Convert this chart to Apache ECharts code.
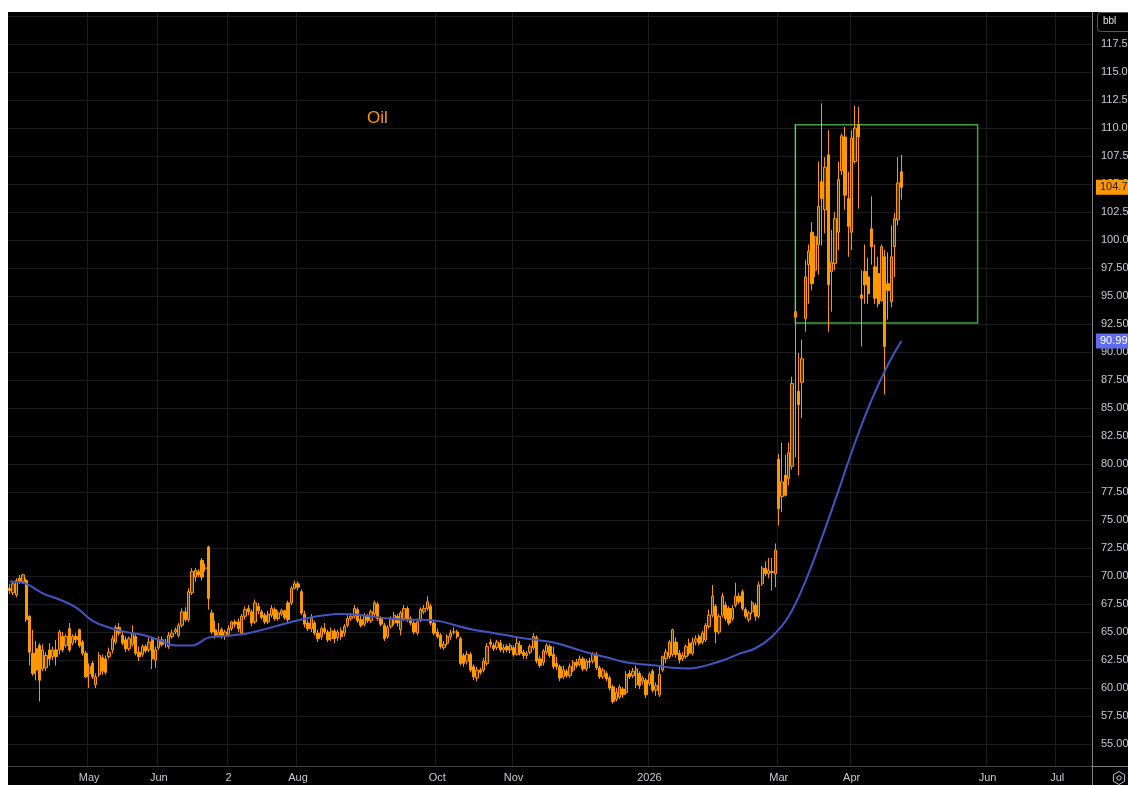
<!DOCTYPE html>
<html><head><meta charset="utf-8">
<script src="https://cdn.jsdelivr.net/npm/echarts@6/dist/echarts.min.js"></script>
<style>
html,body{margin:0;padding:0;background:#fff;width:1128px;height:785px;overflow:hidden}
#chart{position:absolute;left:8px;top:12px;width:1120px;height:773px;background:#000}
</style></head><body><div id="chart"></div>
<script>
// ---- categories (trading days) ----
const startDate = '2025-03-27';
const marketHolidays = ['2025-04-18','2025-05-26','2025-06-19','2025-07-04','2025-09-01','2025-11-27','2025-12-25','2026-01-01','2026-01-19','2026-02-16','2026-04-03','2026-05-25','2026-06-19','2026-07-03'];
const categoryCount = 327;
const monthTickLabels = {'2025-05-01':'May','2025-06-02':'Jun','2025-07-02':'2','2025-08-01':'Aug','2025-10-01':'Oct','2025-11-03':'Nov','2026-01-02':'2026','2026-03-02':'Mar','2026-04-01':'Apr','2026-06-01':'Jun','2026-07-01':'Jul'};

// ---- OHLC: [open, close, low, high] ----
const ohlcAprJun2025 = [
[68.9,68.7,68.4,69.3],[68.5,69.3,68.3,69.5],[68.3,69.6,68.1,69.8],[69.8,69.5,69.3,70.1],[69.5,70.1,69.3,70.2],
[69.6,66.1,65.9,69.8],[66.4,63.2,62.0,66.5],[63.1,61.3,61.1,65.2],[63.5,61.6,60.7,64.2],[63.8,60.7,58.8,64.0],
[61.7,63.4,61.5,63.9],[61.8,62.9,61.5,63.2],[63.4,62.6,62.0,64.0],[62.8,63.4,62.5,63.7],[63.4,62.8,62.0,64.3],
[63.4,65.0,63.0,65.2],[64.6,63.4,63.2,65.0],[63.8,64.6,63.6,64.8],[65.3,63.4,63.2,65.8],[64.0,64.6,63.8,64.8],
[64.6,64.3,64.0,64.9],[65.2,63.8,63.6,65.3],[64.1,63.1,62.9,64.3],[63.1,61.0,60.9,63.3],[61.3,61.9,60.0,62.2],
[62.2,61.0,60.8,62.4],[60.3,61.0,60.0,61.3],[61.2,62.9,61.0,63.2],[62.7,61.5,61.2,63.0],[62.6,61.4,61.2,62.9],
[62.8,63.2,62.6,63.6],[63.4,64.4,63.1,64.7],[64.1,65.4,63.9,65.6],[65.4,64.9,64.7,65.8],[64.7,64.0,63.8,65.0],
[64.3,63.5,63.2,64.6],[63.5,64.4,63.3,64.6],[63.9,64.9,63.7,65.6],[64.6,63.1,62.9,64.8],[63.2,62.8,62.4,63.7],
[63.0,63.7,62.8,63.9],[63.7,63.3,63.1,63.9],[63.4,64.1,63.2,64.5],[64.3,62.6,61.7,64.5],[62.5,63.4,61.8,63.7],
[63.6,64.3,63.4,64.6],[64.3,63.9,63.7,64.6],[64.0,64.1,63.6,64.4],[63.7,64.7,63.5,65.0],[64.6,64.9,64.4,65.2],
[65.0,65.2,64.8,65.4],[64.7,65.6,64.5,65.8],[65.6,66.8,65.4,67.1],[66.8,66.1,65.9,67.2],[66.1,68.6,65.9,68.9],
[68.5,70.4,68.3,70.7],[69.9,70.5,69.5,70.7],[70.4,70.1,69.9,70.6],[71.4,69.9,69.6,71.6],[70.7,70.7,70.4,71.1],
[72.6,68.0,67.0,72.7]
];
const ohlcJulSep2025 = [
[66.7,65.0,64.8,67.0],[65.2,64.7,64.4,66.0],[64.7,65.0,64.5,65.8],[65.2,64.6,64.4,65.4],[64.6,65.0,64.3,65.2],
[64.8,65.3,64.6,65.6],[65.3,65.9,65.1,66.0],[65.9,65.7,65.4,66.1],[65.9,65.3,65.0,66.2],[64.9,66.4,64.7,66.6],
[66.4,67.0,66.1,67.3],[67.1,66.8,66.5,67.4],[66.8,65.8,65.5,67.0],[65.9,67.6,65.7,67.9],[67.3,66.9,66.6,67.6],
[66.8,66.3,66.1,67.0],[66.5,65.9,65.7,66.7],[65.9,66.6,65.7,66.9],[66.5,67.1,66.3,67.4],[67.0,66.2,66.0,67.2],
[66.2,66.7,66.0,66.9],[66.6,66.9,66.4,67.1],[66.9,66.3,66.1,67.0],[67.6,66.1,65.9,67.8],[67.6,68.9,67.4,69.1],
[68.9,69.3,68.8,69.6],[69.3,69.0,68.7,69.5],[68.6,66.7,66.5,68.8],
[66.6,65.7,65.4,66.9],[65.8,65.3,65.1,66.1],[65.3,66.2,65.0,66.6],[65.8,64.9,64.7,66.0],[64.9,64.4,64.1,65.2],
[64.6,65.3,64.3,65.5],[65.3,65.0,64.8,65.8],[65.0,64.3,64.1,65.2],[64.4,65.1,64.2,65.4],[65.1,64.4,64.0,65.3],
[64.5,65.0,64.2,65.2],[65.1,64.6,64.3,65.4],[64.9,65.5,64.6,65.7],[65.6,66.2,65.4,66.5],[66.2,66.4,66.0,66.7],
[66.4,67.1,66.2,67.4],[67.0,66.0,65.8,67.2],[66.1,65.6,65.4,66.5],[65.7,66.5,65.5,66.7],[66.4,66.0,65.8,66.6],
[66.0,66.8,65.8,67.0],[66.6,67.6,66.4,67.8],[67.5,66.2,66.0,67.7],[66.2,65.7,65.5,66.4],[65.6,64.4,64.2,65.8],
[64.6,65.4,64.4,65.6],[65.5,66.2,65.3,66.4],[65.8,66.5,65.6,66.8],[66.4,65.8,65.5,66.6],[65.2,66.7,64.7,66.9],
[66.2,67.1,66.0,67.4],[67.1,66.1,65.9,67.3],[66.2,65.8,65.6,66.4],[65.8,65.0,64.8,66.0],[64.9,65.9,64.7,66.2],
[66.0,67.0,65.9,67.2],[66.8,67.1,66.6,67.4],[67.1,67.7,66.9,68.2],[67.3,65.8,65.6,67.5],[65.8,64.9,64.7,66.0],
[65.0,64.6,64.4,65.3]
];
const ohlcOctDec2025 = [
[64.7,63.7,63.5,64.9],[63.6,63.9,63.4,64.2],[64.0,64.6,63.8,64.8],[64.6,64.9,64.3,65.2],[65.0,65.0,64.8,65.4],
[65.0,64.6,64.4,65.2],[64.4,62.2,62.0,64.6],[62.9,62.2,61.9,63.1],[62.4,63.0,62.1,63.3],[63.0,61.6,61.4,63.2],
[61.9,61.0,60.7,62.1],[60.9,61.6,60.6,61.9],[61.6,61.4,61.2,61.8],[61.6,62.4,61.4,62.7],[62.2,63.7,62.0,64.0],
[64.1,63.9,63.6,64.4],[63.8,63.5,63.3,64.0],[63.6,64.1,63.4,64.3],[64.0,63.4,63.2,64.3],[63.4,63.6,63.1,63.9],
[63.7,63.4,63.2,63.9],[63.4,63.8,63.1,64.0],[63.6,63.0,62.8,63.8],[63.0,64.0,62.9,64.5],[63.8,63.1,62.9,64.2],
[63.2,62.9,62.6,63.4],[62.9,63.1,62.6,63.3],[63.2,63.7,63.0,63.9],[63.6,64.6,63.4,64.9],[64.5,62.4,62.2,64.7],
[62.6,62.0,61.8,62.9],[62.3,63.3,62.0,63.5],[63.2,63.8,63.0,64.0],[63.7,62.9,62.7,63.9],[63.0,61.9,61.7,63.7],
[62.2,61.9,61.6,62.8],[61.9,60.9,60.6,62.1],[61.0,61.6,60.8,62.0],[61.5,61.1,60.9,61.7],[61.1,61.9,60.9,62.2],
[61.6,62.3,61.4,62.5],[62.3,62.0,61.8,62.6],[62.1,62.6,61.9,62.9],[62.6,61.7,61.5,62.8],[61.7,62.4,61.5,62.6],
[62.4,62.3,61.8,62.7],[62.4,63.0,62.2,63.2],[63.0,61.8,61.6,63.2],[61.8,61.0,60.8,62.0],[61.0,61.6,60.8,61.8],
[61.3,60.8,60.6,61.5],[60.9,60.0,59.8,61.1],[60.1,58.8,58.6,60.3],[59.0,59.6,58.8,60.0],[59.2,60.1,59.0,60.3],
[59.9,59.4,59.1,60.1],[59.6,61.2,59.4,61.5],[61.3,61.0,60.8,61.6],[61.1,61.5,60.9,61.8],[60.3,61.7,60.0,62.0]
];
const ohlcJanFeb2026 = [
[61.3,60.2,59.9,61.5],[60.6,60.9,60.3,61.1],[60.7,59.4,59.1,60.9],[60.4,61.2,60.2,61.4],[61.5,59.8,59.6,61.7],
[59.8,60.2,59.3,60.5],[59.4,61.2,59.2,61.9],[61.6,62.8,61.4,62.9],[62.6,63.2,62.2,63.5],[62.8,64.1,62.6,64.3],
[63.0,65.2,62.8,65.3],[64.1,63.0,62.7,64.5],[63.1,62.5,62.2,63.4],[62.6,62.9,62.4,63.2],[62.8,63.7,62.6,63.9],
[64.0,63.1,62.9,64.4],[63.1,64.1,62.9,64.5],[64.1,64.4,63.8,64.7],[64.6,64.0,63.8,64.8],[64.1,64.9,63.9,65.1],
[64.3,65.6,64.1,65.8],[65.5,66.5,65.3,67.0],[66.5,68.2,66.3,69.2],[67.3,65.0,64.0,67.5],[65.0,66.4,64.8,66.6],
[66.5,68.2,66.3,68.5],[67.4,66.2,66.0,67.7],[67.1,65.8,65.6,67.3],[66.2,67.1,66.0,67.4],[67.4,68.2,67.2,69.4],
[68.2,67.7,67.5,68.5],[68.6,67.1,66.9,68.8],[67.0,66.4,66.2,67.2],[66.1,66.7,65.9,66.9],[66.8,67.6,66.6,67.8],
[67.4,66.4,66.0,67.6],[66.4,69.2,66.2,69.5],[69.3,70.7,69.1,70.9],[70.7,70.2,70.0,71.3],[70.2,70.5,69.8,71.6],
[70.3,70.4,68.7,71.6],[70.2,72.3,69.0,72.9]
];
const ohlcMarApr2026 = [
[80.4,76.0,74.5,80.9],[77.1,78.4,75.7,81.9],[79.0,77.2,77.1,80.8],[78.7,81.0,78.1,81.9],[79.8,87.2,79.5,87.8],
[93.1,93.6,80.6,110.3],[86.5,85.3,79.0,89.9],[87.3,89.4,84.1,91.1],[93.0,96.7,91.8,98.2],[97.8,99.0,94.3,99.6],
[100.7,96.1,95.5,101.6],[97.3,100.3,96.7,100.3],[99.6,103.0,96.9,107.0],[105.2,103.7,99.5,112.2],[102.7,106.5,100.6,107.4],
[107.6,96.0,91.8,109.8],[97.2,98.0,93.6,100.9],[97.9,101.9,97.3,102.5],[100.7,105.4,99.1,107.0],[106.2,109.3,105.8,109.5],
[109.2,104.0,102.7,110.1],[103.7,101.2,98.5,106.1],[100.7,109.1,99.1,109.8],[107.0,110.0,106.8,112.0],[110.3,109.2,102.8,111.9],
[95.1,94.8,90.5,97.3],[97.2,96.0,94.3,99.6],[96.7,95.2,94.3,98.4],[101.0,99.4,97.8,103.9],[97.6,94.8,94.3,99.6],
[97.0,94.3,94.0,98.5],[94.6,99.4,94.5,99.6],[98.5,90.5,86.2,99.1],[96.1,95.5,92.9,98.9],[94.5,98.5,94.0,101.3],
[99.4,101.9,96.7,102.4],[101.8,105.1,101.3,107.4],[106.1,104.7,103.6,107.6]
];

// ---- moving average, read every 5th bar, plus last value ----
const maStep = 5;
const maEvery5 = [
69.5,69.3,68.45,67.9,67.2,66.0,65.4,65.0,64.75,64.3,
63.8,63.8,64.5,64.65,64.8,65.1,65.5,65.9,66.25,66.5,
66.6,66.55,66.35,66.2,66.1,66.1,65.95,65.55,65.2,64.95,
64.7,64.45,64.25,64.0,63.55,63.1,62.75,62.35,62.15,62.0,
61.8,61.75,62.0,62.45,63.05,63.55,64.6,66.4,69.5,73.4,
77.6,81.9,85.7,88.9
];
const maLast = 90.99;

// ---- annotations ----
const boxCorners = [['2026-03-09', 110.3], ['2026-05-27', 92.6]];
const titleText = 'Oil';
const unitText = 'bbl';

function buildTradingDays(){
  const out=[]; const d=new Date(startDate+'T00:00:00Z');
  while(out.length<categoryCount){
    const wd=d.getUTCDay(); const s=d.toISOString().slice(0,10);
    if(wd!==0&&wd!==6&&marketHolidays.indexOf(s)<0) out.push(s);
    d.setUTCDate(d.getUTCDate()+1);
  }
  return out;
}
const days = buildTradingDays();
const candles = [].concat(ohlcAprJun2025, ohlcJulSep2025, ohlcOctDec2025, ohlcJanFeb2026, ohlcMarApr2026);
const maPoints = maEvery5.map((v,k)=>[days[k*maStep], v]);
maPoints.push([days[candles.length-1], maLast]);
const lastClose = candles[candles.length-1][1];
const showTick = (idx, val) => monthTickLabels[val] !== undefined;
const FONT = 'Liberation Sans';
const ORANGE = '#ff9800';

const chart = echarts.init(document.getElementById('chart'));
chart.setOption({
  backgroundColor:'#000',
  animation:false,
  grid:{left:0,right:36,top:0,bottom:13,containLabel:false,outerBoundsMode:'none'},
  xAxis:{type:'category',data:days,boundaryGap:true,offset:-6,
    axisLine:{show:true,lineStyle:{color:'#808080',width:1}},
    axisTick:{show:false},
    axisLabel:{interval:showTick,formatter:v=>monthTickLabels[v]||'',color:'#c8cad0',fontSize:11,fontFamily:FONT,margin:6},
    splitLine:{show:true,interval:showTick,lineStyle:{color:'#1c1c1c',width:1}}},
  yAxis:{type:'value',position:'right',min:52.5,max:120.357,interval:2.5,
    axisLine:{show:true,lineStyle:{color:'#808080',width:1}},
    axisTick:{show:false},
    axisLabel:{color:'#c8cad0',fontSize:11,fontFamily:FONT,margin:9,
      formatter:v=>{ if(v<54.9||v>117.6||Math.abs(v/2.5-Math.round(v/2.5))>1e-6) return ''; return v>=100?v.toFixed(1):v.toFixed(2);} },
    splitLine:{show:true,showMinLine:false,showMaxLine:false,lineStyle:{color:'#1c1c1c',width:1}}},
  series:[
    {type:'candlestick',name:'Oil',data:candles,barWidth:2.8,
      itemStyle:{color:'rgba(255,152,0,0.35)',color0:ORANGE,borderColor:ORANGE,borderColor0:ORANGE,borderWidth:1},
      markArea:{silent:true,itemStyle:{color:'rgba(0,0,0,0)',borderColor:'#43a047',borderWidth:1.5},
        data:[[{coord:boxCorners[0]},{coord:boxCorners[1]}]]},
      markLine:{silent:true,symbol:'none',lineStyle:{width:0,color:'rgba(0,0,0,0)'},
        data:[{yAxis:lastClose}],
        label:{show:true,position:'end',distance:4,formatter:()=>lastClose.toFixed(1),backgroundColor:ORANGE,color:'#1a1a1a',
          fontSize:11,fontFamily:FONT,padding:[2,4,2,4],opacity:1}}},
    {type:'line',name:'MA',data:maPoints,smooth:0.4,showSymbol:false,
      lineStyle:{color:'#4355c4',width:2},z:3,
      markLine:{silent:true,symbol:'none',lineStyle:{width:0,color:'rgba(0,0,0,0)'},
        data:[{yAxis:maLast}],
        label:{show:true,position:'end',distance:4,formatter:()=>maLast.toFixed(2),backgroundColor:'#5f6cf0',color:'#fff',
          fontSize:11,fontFamily:FONT,padding:[2,4,2,4],opacity:1}}}
  ],
  graphic:[
    {type:'rect',z:50,shape:{x:0,y:754.5,width:1083.5,height:6},style:{fill:'#000'}},
    {type:'line',z:60,shape:{x1:1084.5,y1:754,x2:1084.5,y2:773},style:{stroke:'#808080',lineWidth:1}},
    {type:'line',z:60,shape:{x1:1084,y1:754.5,x2:1120,y2:754.5},style:{stroke:'#808080',lineWidth:1}},
    {type:'text',z:60,left:359,top:98,style:{text:titleText,fill:ORANGE,fontSize:17,fontFamily:FONT}},
    {type:'rect',z:60,shape:{x:1089.5,y:0.5,width:40,height:19,r:3},style:{fill:'#000',stroke:'#5a5a5a',lineWidth:1}},
    {type:'text',z:61,left:1095,top:4,style:{text:unitText,fill:'#e0e0e0',fontSize:10,fontFamily:FONT}},
    {type:'polygon',z:60,shape:{points:[[1111,759.5],[1116.6,762.75],[1116.6,769.25],[1111,772.5],[1105.4,769.25],[1105.4,762.75]]},style:{fill:'none',stroke:'#c3c6ce',lineWidth:1}},
    {type:'circle',z:60,shape:{cx:1111,cy:766,r:2.2},style:{fill:'none',stroke:'#c3c6ce',lineWidth:1}}
  ]
});
</script></body></html>
